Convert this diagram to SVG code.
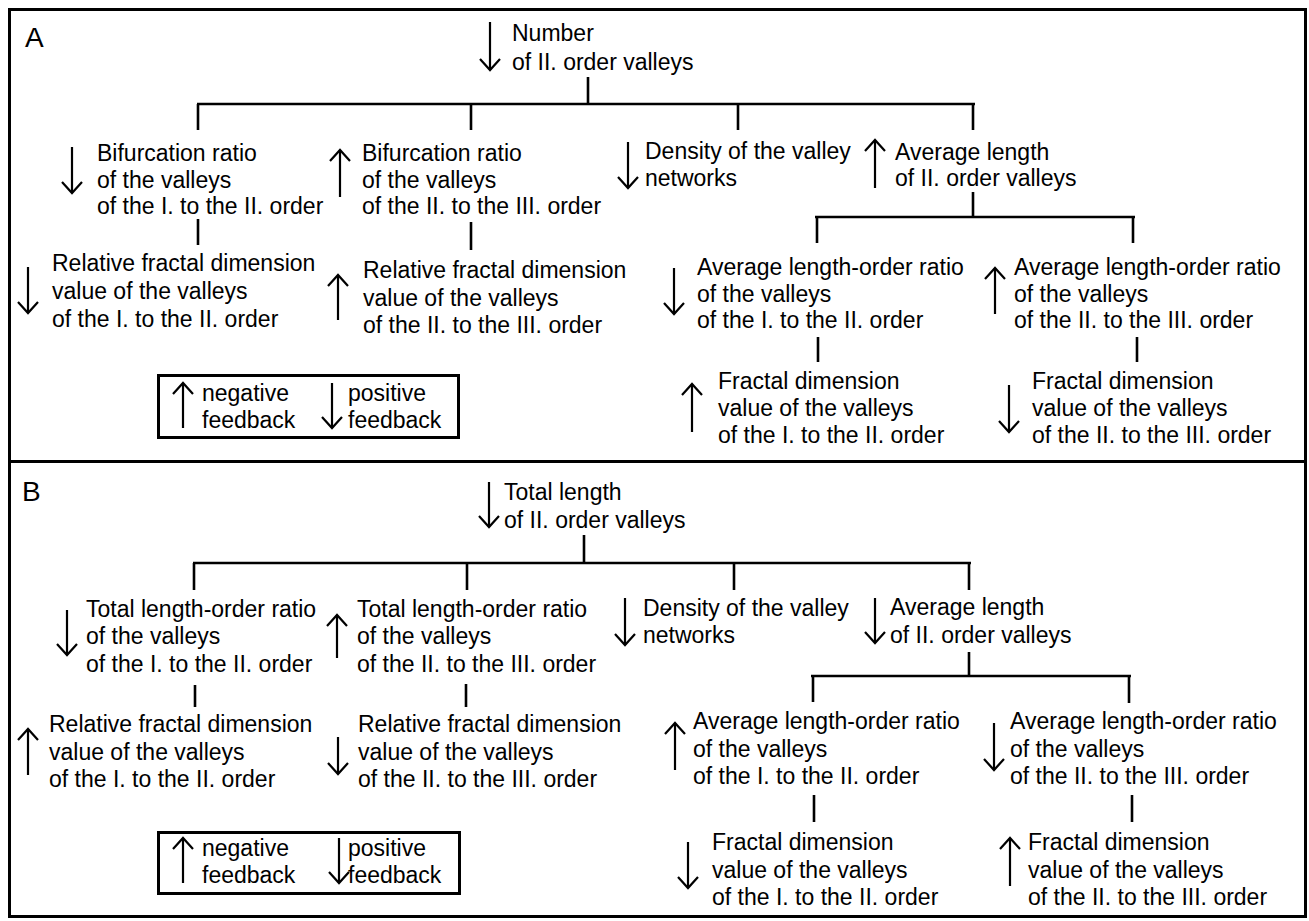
<svg xmlns="http://www.w3.org/2000/svg" width="1309" height="921" viewBox="0 0 1309 921">
<defs>
<style>
text{font-family:"Liberation Sans",Arial,sans-serif;font-size:23px;fill:#000}
.lbl{font-size:28px}
.frame{fill:none;stroke:#000;stroke-width:3}
.conn line{stroke:#000;stroke-width:2.6}
.arr{stroke:#000;stroke-width:2.2;fill:none;marker-end:url(#head)}
.leg{fill:none;stroke:#000;stroke-width:3}
</style>
<marker id="head" viewBox="-12 -12 24 24" markerWidth="24" markerHeight="24" markerUnits="userSpaceOnUse" orient="auto">
<path d="M-11,-10 L0,0 L-11,10" fill="none" stroke="#000" stroke-width="2.2"/>
</marker>
</defs>
<rect width="1309" height="921" fill="#fff"/>
<g id="panelA">
<rect class="frame" x="9.5" y="9.5" width="1296" height="452"/>
<text class="lbl" x="25" y="47">A</text>
</g>
<g id="panelB">
<rect class="frame" x="9.5" y="461.5" width="1296" height="455"/>
<text class="lbl" x="22" y="501">B</text>
</g>
<g id="connectors" class="conn">
<line x1="588" y1="77" x2="588" y2="104"/>
<line x1="197" y1="104" x2="975" y2="104"/>
<line x1="198" y1="104" x2="198" y2="130"/>
<line x1="471" y1="104" x2="471" y2="130"/>
<line x1="738" y1="104" x2="738" y2="130"/>
<line x1="973" y1="104" x2="973" y2="130"/>
<line x1="198" y1="219" x2="198" y2="245"/>
<line x1="471" y1="222" x2="471" y2="250"/>
<line x1="973" y1="192" x2="973" y2="217"/>
<line x1="815" y1="217" x2="1135" y2="217"/>
<line x1="817" y1="217" x2="817" y2="243"/>
<line x1="1133" y1="217" x2="1133" y2="243"/>
<line x1="818" y1="337" x2="818" y2="362"/>
<line x1="1137" y1="337" x2="1137" y2="362"/>
<line x1="584" y1="535" x2="584" y2="563"/>
<line x1="193" y1="563" x2="971" y2="563"/>
<line x1="194" y1="563" x2="194" y2="590"/>
<line x1="467" y1="563" x2="467" y2="590"/>
<line x1="734" y1="563" x2="734" y2="590"/>
<line x1="969" y1="563" x2="969" y2="590"/>
<line x1="195" y1="685" x2="195" y2="707"/>
<line x1="466" y1="684" x2="466" y2="707"/>
<line x1="969" y1="652" x2="969" y2="676"/>
<line x1="811" y1="676" x2="1131" y2="676"/>
<line x1="813" y1="676" x2="813" y2="702"/>
<line x1="1129" y1="676" x2="1129" y2="703"/>
<line x1="814" y1="795" x2="814" y2="822"/>
<line x1="1132" y1="795" x2="1132" y2="822"/>
</g>
<g id="a_number"><path class="arr" d="M490,22V70"/><text x="512" y="41">Number</text><text x="512" y="70">of II. order valleys</text></g>
<g id="a_bif12"><path class="arr" d="M72,147V193"/><text x="97" y="161">Bifurcation ratio</text><text x="97" y="188">of the valleys</text><text x="97" y="214">of the I. to the II. order</text></g>
<g id="a_bif23"><path class="arr" d="M340,197V150"/><text x="362" y="161">Bifurcation ratio</text><text x="362" y="188">of the valleys</text><text x="362" y="214">of the II. to the III. order</text></g>
<g id="a_density"><path class="arr" d="M628,142V188"/><text x="645" y="159">Density of the valley</text><text x="645" y="186">networks</text></g>
<g id="a_avglen"><path class="arr" d="M875,188V140"/><text x="895" y="160">Average length</text><text x="895" y="186">of II. order valleys</text></g>
<g id="a_rel12"><path class="arr" d="M28,267V313"/><text x="52" y="271">Relative fractal dimension</text><text x="52" y="299">value of the valleys</text><text x="52" y="327">of the I. to the II. order</text></g>
<g id="a_rel23"><path class="arr" d="M338,320V275"/><text x="363" y="278">Relative fractal dimension</text><text x="363" y="306">value of the valleys</text><text x="363" y="333">of the II. to the III. order</text></g>
<g id="a_alo12"><path class="arr" d="M674,268V314"/><text x="697" y="275">Average length-order ratio</text><text x="697" y="302">of the valleys</text><text x="697" y="328">of the I. to the II. order</text></g>
<g id="a_alo23"><path class="arr" d="M995,314V268"/><text x="1014" y="275">Average length-order ratio</text><text x="1014" y="302">of the valleys</text><text x="1014" y="328">of the II. to the III. order</text></g>
<g id="a_fd12"><path class="arr" d="M692,432V384"/><text x="718" y="389">Fractal dimension</text><text x="718" y="416">value of the valleys</text><text x="718" y="443">of the I. to the II. order</text></g>
<g id="a_fd23"><path class="arr" d="M1009,385V432"/><text x="1032" y="389">Fractal dimension</text><text x="1032" y="416">value of the valleys</text><text x="1032" y="443">of the II. to the III. order</text></g>
<g id="a_legend"><rect class="leg" x="158.5" y="375.5" width="300" height="62"/><path class="arr" d="M183,428V383"/><text x="202" y="401">negative</text><text x="202" y="428">feedback</text><path class="arr" d="M332,383V428"/><text x="348" y="401">positive</text><text x="348" y="428">feedback</text></g>
<g id="b_total"><path class="arr" d="M489,482V527"/><text x="504" y="500">Total length</text><text x="504" y="528">of II. order valleys</text></g>
<g id="b_tlo12"><path class="arr" d="M67,610V655"/><text x="86" y="617">Total length-order ratio</text><text x="86" y="644">of the valleys</text><text x="86" y="672">of the I. to the II. order</text></g>
<g id="b_tlo23"><path class="arr" d="M337,658V615"/><text x="357" y="617">Total length-order ratio</text><text x="357" y="644">of the valleys</text><text x="357" y="672">of the II. to the III. order</text></g>
<g id="b_density"><path class="arr" d="M625,598V645"/><text x="643" y="616">Density of the valley</text><text x="643" y="643">networks</text></g>
<g id="b_avglen"><path class="arr" d="M875,598V643"/><text x="890" y="615">Average length</text><text x="890" y="643">of II. order valleys</text></g>
<g id="b_rel12"><path class="arr" d="M28,775V729"/><text x="49" y="732">Relative fractal dimension</text><text x="49" y="760">value of the valleys</text><text x="49" y="787">of the I. to the II. order</text></g>
<g id="b_rel23"><path class="arr" d="M338,737V774"/><text x="358" y="732">Relative fractal dimension</text><text x="358" y="760">value of the valleys</text><text x="358" y="787">of the II. to the III. order</text></g>
<g id="b_alo12"><path class="arr" d="M675,770V723"/><text x="693" y="729">Average length-order ratio</text><text x="693" y="757">of the valleys</text><text x="693" y="784">of the I. to the II. order</text></g>
<g id="b_alo23"><path class="arr" d="M994,723V770"/><text x="1010" y="729">Average length-order ratio</text><text x="1010" y="757">of the valleys</text><text x="1010" y="784">of the II. to the III. order</text></g>
<g id="b_fd12"><path class="arr" d="M688,842V888"/><text x="712" y="850">Fractal dimension</text><text x="712" y="878">value of the valleys</text><text x="712" y="905">of the I. to the II. order</text></g>
<g id="b_fd23"><path class="arr" d="M1010,886V838"/><text x="1028" y="850">Fractal dimension</text><text x="1028" y="878">value of the valleys</text><text x="1028" y="905">of the II. to the III. order</text></g>
<g id="b_legend"><rect class="leg" x="158.5" y="832.5" width="301" height="61"/><path class="arr" d="M183,883V838"/><text x="202" y="856">negative</text><text x="202" y="883">feedback</text><path class="arr" d="M339,838V883"/><text x="348" y="856">positive</text><text x="348" y="883">feedback</text></g>
</svg>
